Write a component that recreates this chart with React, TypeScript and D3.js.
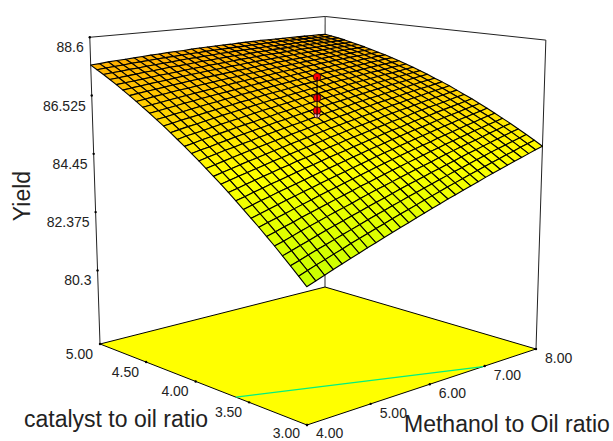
import React from 'react';
import { scaleLinear, line } from 'd3';

// values
const methanolTicks = [4, 5, 6, 7, 8];
const catalystTicks = [5, 4.5, 4, 3.5, 3];
const yieldTicks = [88.6, 86.525, 84.45, 82.375, 80.3];
const designPoints = [85.89, 86.05, 86.5, 87.24];
const contourMethanol = [4, 6.97];
const contourCatalyst = [3.62, 3];

// rows run from catalyst 3 to 5, columns from methanol 4 to 8
const yieldGrid = [
  [81.91,82.02,82.13,82.24,82.35,82.46,82.56,82.67,82.77,82.88,82.98,83.08,83.18,83.28,83.38,83.48,83.58,83.68,83.77,83.87,83.96,84.05,84.15,84.24,84.33,84.42,84.51,84.59,84.68,84.77,84.85],
  [82.16,82.27,82.38,82.48,82.59,82.69,82.80,82.90,83.00,83.10,83.20,83.30,83.40,83.49,83.59,83.69,83.78,83.87,83.97,84.06,84.15,84.24,84.33,84.42,84.51,84.59,84.68,84.76,84.85,84.93,85.01],
  [82.41,82.51,82.62,82.72,82.82,82.92,83.02,83.12,83.22,83.32,83.42,83.51,83.61,83.70,83.80,83.89,83.98,84.07,84.16,84.25,84.34,84.42,84.51,84.60,84.68,84.77,84.85,84.93,85.01,85.09,85.17],
  [82.65,82.75,82.85,82.95,83.05,83.15,83.25,83.34,83.44,83.53,83.63,83.72,83.81,83.90,84.00,84.09,84.17,84.26,84.35,84.43,84.52,84.60,84.69,84.77,84.85,84.93,85.01,85.09,85.17,85.25,85.32],
  [82.89,82.98,83.08,83.18,83.28,83.37,83.47,83.56,83.65,83.74,83.84,83.93,84.02,84.10,84.19,84.28,84.36,84.45,84.53,84.61,84.70,84.78,84.86,84.94,85.02,85.09,85.17,85.25,85.32,85.40,85.47],
  [83.12,83.21,83.31,83.40,83.50,83.59,83.68,83.77,83.86,83.95,84.04,84.13,84.21,84.30,84.38,84.47,84.55,84.63,84.71,84.79,84.87,84.95,85.03,85.10,85.18,85.25,85.33,85.40,85.47,85.54,85.61],
  [83.35,83.44,83.53,83.62,83.71,83.80,83.89,83.98,84.07,84.15,84.24,84.32,84.40,84.49,84.57,84.65,84.73,84.81,84.89,84.96,85.04,85.11,85.19,85.26,85.34,85.41,85.48,85.55,85.62,85.69,85.75],
  [83.57,83.66,83.75,83.84,83.93,84.01,84.10,84.18,84.27,84.35,84.43,84.51,84.59,84.67,84.75,84.83,84.91,84.98,85.06,85.13,85.21,85.28,85.35,85.42,85.49,85.56,85.63,85.69,85.76,85.82,85.89],
  [83.79,83.88,83.97,84.05,84.14,84.22,84.30,84.38,84.46,84.54,84.62,84.70,84.78,84.86,84.93,85.01,85.08,85.15,85.23,85.30,85.37,85.44,85.50,85.57,85.64,85.71,85.77,85.83,85.90,85.96,86.02],
  [84.01,84.09,84.18,84.26,84.34,84.42,84.50,84.58,84.66,84.73,84.81,84.89,84.96,85.03,85.11,85.18,85.25,85.32,85.39,85.46,85.52,85.59,85.66,85.72,85.78,85.85,85.91,85.97,86.03,86.09,86.15],
  [84.22,84.30,84.38,84.46,84.54,84.62,84.70,84.77,84.85,84.92,84.99,85.07,85.14,85.21,85.28,85.35,85.41,85.48,85.55,85.61,85.68,85.74,85.80,85.87,85.93,85.99,86.04,86.10,86.16,86.22,86.27],
  [84.43,84.51,84.59,84.66,84.74,84.81,84.89,84.96,85.03,85.10,85.17,85.24,85.31,85.38,85.44,85.51,85.58,85.64,85.70,85.76,85.83,85.89,85.95,86.00,86.06,86.12,86.18,86.23,86.28,86.34,86.39],
  [84.63,84.71,84.78,84.86,84.93,85.00,85.07,85.14,85.21,85.28,85.35,85.41,85.48,85.54,85.61,85.67,85.73,85.79,85.85,85.91,85.97,86.03,86.09,86.14,86.20,86.25,86.30,86.36,86.41,86.46,86.51],
  [84.83,84.91,84.98,85.05,85.12,85.19,85.26,85.32,85.39,85.45,85.52,85.58,85.64,85.71,85.77,85.83,85.89,85.94,86.00,86.06,86.11,86.17,86.22,86.27,86.32,86.38,86.43,86.48,86.52,86.57,86.62],
  [85.03,85.10,85.17,85.24,85.30,85.37,85.43,85.50,85.56,85.62,85.68,85.74,85.80,85.86,85.92,85.98,86.03,86.09,86.14,86.20,86.25,86.30,86.35,86.40,86.45,86.50,86.54,86.59,86.64,86.68,86.72],
  [85.22,85.29,85.35,85.42,85.48,85.55,85.61,85.67,85.73,85.79,85.85,85.90,85.96,86.02,86.07,86.13,86.18,86.23,86.28,86.33,86.38,86.43,86.48,86.53,86.57,86.62,86.66,86.70,86.75,86.79,86.83],
  [85.41,85.47,85.54,85.60,85.66,85.72,85.78,85.84,85.89,85.95,86.00,86.06,86.11,86.17,86.22,86.27,86.32,86.37,86.42,86.46,86.51,86.56,86.60,86.64,86.69,86.73,86.77,86.81,86.85,86.89,86.93],
  [85.59,85.66,85.71,85.77,85.83,85.89,85.94,86.00,86.05,86.11,86.16,86.21,86.26,86.31,86.36,86.41,86.46,86.50,86.55,86.59,86.63,86.68,86.72,86.76,86.80,86.84,86.88,86.91,86.95,86.99,87.02],
  [85.77,85.83,85.89,85.94,86.00,86.05,86.11,86.16,86.21,86.26,86.31,86.36,86.41,86.45,86.50,86.54,86.59,86.63,86.67,86.71,86.76,86.80,86.83,86.87,86.91,86.95,86.98,87.01,87.05,87.08,87.11],
  [85.95,86.00,86.06,86.11,86.16,86.21,86.26,86.31,86.36,86.41,86.45,86.50,86.55,86.59,86.63,86.67,86.72,86.76,86.79,86.83,86.87,86.91,86.94,86.98,87.01,87.05,87.08,87.11,87.14,87.17,87.20],
  [86.12,86.17,86.22,86.27,86.32,86.37,86.42,86.46,86.51,86.55,86.60,86.64,86.68,86.72,86.76,86.80,86.84,86.88,86.91,86.95,86.98,87.02,87.05,87.08,87.11,87.14,87.17,87.20,87.23,87.26,87.28],
  [86.29,86.34,86.38,86.43,86.48,86.52,86.57,86.61,86.65,86.69,86.73,86.77,86.81,86.85,86.89,86.92,86.96,86.99,87.03,87.06,87.09,87.12,87.15,87.18,87.21,87.24,87.26,87.29,87.31,87.34,87.36],
  [86.45,86.50,86.54,86.59,86.63,86.67,86.71,86.75,86.79,86.83,86.87,86.91,86.94,86.98,87.01,87.04,87.08,87.11,87.14,87.17,87.20,87.22,87.25,87.28,87.30,87.33,87.35,87.37,87.39,87.41,87.43],
  [86.61,86.65,86.70,86.74,86.78,86.82,86.85,86.89,86.93,86.96,87.00,87.03,87.06,87.10,87.13,87.16,87.19,87.22,87.24,87.27,87.30,87.32,87.34,87.37,87.39,87.41,87.43,87.45,87.47,87.49,87.50],
  [86.77,86.81,86.85,86.88,86.92,86.96,86.99,87.03,87.06,87.09,87.12,87.15,87.18,87.21,87.24,87.27,87.30,87.32,87.35,87.37,87.39,87.41,87.43,87.45,87.47,87.49,87.51,87.53,87.54,87.56,87.57],
  [86.92,86.96,86.99,87.03,87.06,87.09,87.13,87.16,87.19,87.22,87.25,87.27,87.30,87.33,87.35,87.38,87.40,87.42,87.44,87.46,87.48,87.50,87.52,87.54,87.55,87.57,87.58,87.60,87.61,87.62,87.63],
  [87.07,87.10,87.13,87.16,87.19,87.23,87.25,87.28,87.31,87.34,87.36,87.39,87.41,87.43,87.46,87.48,87.50,87.52,87.54,87.56,87.57,87.59,87.60,87.62,87.63,87.64,87.65,87.66,87.67,87.68,87.69],
  [87.21,87.24,87.27,87.30,87.33,87.35,87.38,87.41,87.43,87.45,87.48,87.50,87.52,87.54,87.56,87.58,87.59,87.61,87.63,87.64,87.66,87.67,87.68,87.69,87.70,87.71,87.72,87.73,87.73,87.74,87.75],
  [87.35,87.38,87.40,87.43,87.45,87.48,87.50,87.52,87.54,87.57,87.59,87.60,87.62,87.64,87.66,87.67,87.69,87.70,87.71,87.72,87.74,87.75,87.75,87.76,87.77,87.78,87.78,87.79,87.79,87.79,87.80],
  [87.48,87.51,87.53,87.55,87.58,87.60,87.62,87.64,87.66,87.67,87.69,87.71,87.72,87.74,87.75,87.76,87.77,87.78,87.79,87.80,87.81,87.82,87.82,87.83,87.83,87.84,87.84,87.84,87.84,87.84,87.84],
  [87.61,87.63,87.66,87.68,87.69,87.71,87.73,87.75,87.76,87.78,87.79,87.80,87.82,87.83,87.84,87.85,87.86,87.86,87.87,87.88,87.88,87.89,87.89,87.89,87.89,87.89,87.89,87.89,87.89,87.89,87.88],
];

const width = 613;
const height = 441;
const font = '"Liberation Sans", Arial, sans-serif';

// floor corners on screen: front, right, back, left
const [x0, y0] = [307, 425];
const [x1, y1] = [536, 349];
const [x2, y2] = [325, 287];
const [x3, y3] = [100, 344];

const det = (x1 - x2) * (y3 - y2) - (x3 - x2) * (y1 - y2);
const sx = x0 - x1 + x2 - x3;
const sy = y0 - y1 + y2 - y3;
const g = (sx * (y3 - y2) - (x3 - x2) * sy) / det;
const h = ((x1 - x2) * sy - sx * (y1 - y2)) / det;

const uScale = scaleLinear().domain([4, 8]).range([0, 1]);
const vScale = scaleLinear().domain([3, 5]).range([0, 1]);
const tScale = scaleLinear().domain([77.68, 88.6]).range([0, 1]);
const color = scaleLinear<string>()
  .domain([81.8, 84.6, 88])
  .range(['#c4ff00', '#ffff00', '#ffa800']);

const project = (methanol: number, catalyst: number, z?: number): [number, number] => {
  const u = uScale(methanol);
  const v = vScale(catalyst);
  const w = g * u + h * v + 1;
  const px = ((x1 - x0 + g * x1) * u + (x3 - x0 + h * x3) * v + x0) / w;
  const py = ((y1 - y0 + g * y1) * u + (y3 - y0 + h * y3) * v + y0) / w;
  if (z === undefined) return [px, py];
  const t = tScale(z);
  return [px + t * (px - 322) * 0.046, py - (t * 357) / w];
};

const path = line();
const rows = yieldGrid.length - 1;
const cols = yieldGrid[0].length - 1;
const mAt = scaleLinear().domain([0, cols]).range([4, 8]);
const cAt = scaleLinear().domain([0, rows]).range([3, 5]);

const cells: { key: string; d: string; fill: string }[] = [];
for (let r = rows - 1; r >= 0; r--) {
  for (let c = cols - 1; c >= 0; c--) {
    const z = [yieldGrid[r][c], yieldGrid[r][c + 1], yieldGrid[r + 1][c + 1], yieldGrid[r + 1][c]];
    const pts = [
      project(mAt(c), cAt(r), z[0]),
      project(mAt(c + 1), cAt(r), z[1]),
      project(mAt(c + 1), cAt(r + 1), z[2]),
      project(mAt(c), cAt(r + 1), z[3]),
    ];
    cells.push({
      key: `${r}-${c}`,
      d: path(pts) + 'Z',
      fill: color((z[0] + z[1] + z[2] + z[3]) / 4),
    });
  }
}

const top = 88.6;
const bottom = 77.68;
const wallPoints = [
  project(4, 5, bottom),
  project(4, 5, top),
  project(8, 5, top),
  project(8, 3, top),
  project(8, 3, bottom),
];

const App = () => {
  const floor = [project(4, 3), project(8, 3), project(8, 5), project(4, 5)];
  const contour = contourMethanol.map((m, i) => project(m, contourCatalyst[i]));
  const back = [project(8, 5), project(8, 5, top)];
  const drop = [project(6, 4, designPoints[0] - 0.1), project(6, 4, designPoints[3])];

  return (
    <svg
      width={width}
      height={height}
      style={{ position: 'absolute', left: 0, top: 0 }}
      fontFamily={font}
      fill="#222"
    >
      <path d={path(wallPoints) ?? ''} fill="none" stroke="#222" strokeWidth={1} />
      <path d={path(back) ?? ''} fill="none" stroke="#555" strokeWidth={1.2} />
      <path d={path(floor) + 'Z'} fill="#ffff00" stroke="#000" strokeWidth={1} />
      <path d={path(contour) ?? ''} fill="none" stroke="#00f080" strokeWidth={1.2} />

      {cells.map(cell => (
        <path key={cell.key} d={cell.d} fill={cell.fill} stroke="#000" strokeWidth={1.1} strokeLinejoin="round" />
      ))}

      {designPoints.map((z, i) => {
        const [cx, cy] = project(6, 4, z);
        return (
          <circle key={z} cx={cx} cy={cy} r={i === 0 ? 3 : 3.8} fill={i === 0 ? '#ffc0cb' : '#f00'} stroke="#300" strokeWidth={0.8} />
        );
      })}
      <path d={path(drop) ?? ''} stroke="#000" strokeWidth={1} fill="none" />

      {yieldTicks.map(z => {
        const [tx, ty] = project(4, 5, z);
        return (
          <g key={z}>
            <circle cx={tx} cy={ty} r={1.2} fill="#000" />
            <text x={tx - 6} y={ty + 15} fontSize={14} textAnchor="end">{z}</text>
          </g>
        );
      })}
      {methanolTicks.map(m => {
        const [tx, ty] = project(m, 3);
        return (
          <g key={m}>
            <circle cx={tx} cy={ty} r={1.2} fill="#000" />
            <text x={tx + 9} y={Math.min(ty + 14, 437.5)} fontSize={14}>{m.toFixed(2)}</text>
          </g>
        );
      })}
      {catalystTicks.map(c => {
        const [tx, ty] = project(4, c);
        return (
          <g key={c}>
            <circle cx={tx} cy={ty} r={1.2} fill="#000" />
            <text x={tx - 7} y={Math.min(ty + 15, 437.5)} fontSize={14} textAnchor="end">{c.toFixed(2)}</text>
          </g>
        );
      })}

      <text x={24} y={427} fontSize={23}>catalyst to oil ratio</text>
      <text x={404} y={432} fontSize={23}>Methanol to Oil ratio</text>
      <text transform="translate(30,196) rotate(-90)" fontSize={23} textAnchor="middle">Yield</text>
    </svg>
  );
};

export default App;
